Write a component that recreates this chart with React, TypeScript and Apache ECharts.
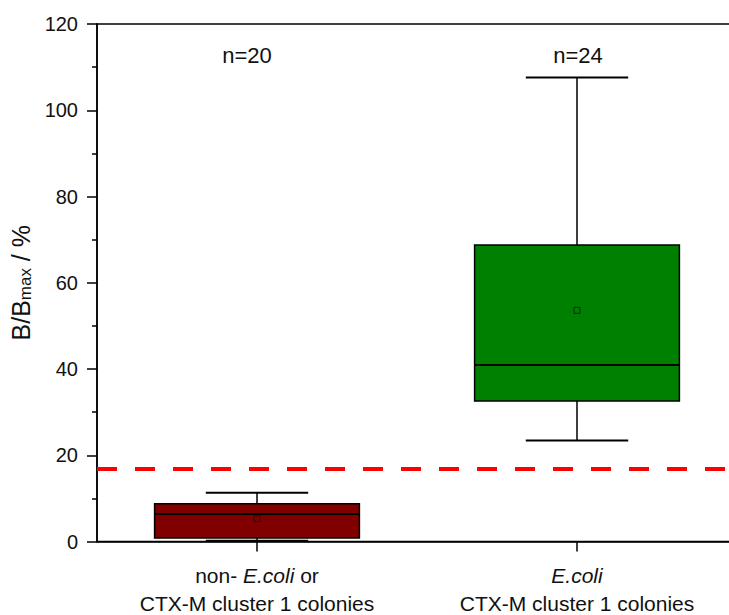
import React, { useEffect, useRef } from "react";
import * as echarts from "echarts";

const categories = [
  "non- E.coli or\nCTX-M cluster 1 colonies",
  "E.coli\nCTX-M cluster 1 colonies",
];
// [min, Q1, median, Q3, max]
const mins = [0.2, 23.4];
const q1s = [0.8, 32.6];
const medians = [6.4, 40.9];
const q3s = [8.75, 68.75];
const maxs = [11.3, 107.6];
const means = [5.3, 53.6];
const nValues = [20, 24];
const thresholdValue = 16.8;
const yTicks = [0, 20, 40, 60, 80, 100, 120];
const boxColors = ["#800000", "#008000"];

const FONT = "Liberation Sans, Arial, sans-serif";

export default function App() {
  const ref = useRef<HTMLDivElement>(null);
  useEffect(() => {
    if (!ref.current) return;
    const chart = echarts.init(ref.current, null, { renderer: "svg" });
    const boxData = categories.map((_, i) => [i, mins[i], q1s[i], medians[i], q3s[i], maxs[i]]);
    const fmtCat = (s: string) =>
      s
        .split("\n")
        .map((line) => {
          const parts = line.split("E.coli");
          return parts
            .map((p) => (p ? `{n|${p}}` : ""))
            .join("{i|E.coli}");
        })
        .join("\n");
    const option: any = {
      animation: false,
      backgroundColor: "#ffffff",
      grid: {
        left: 97,
        top: 24,
        right: 0,
        bottom: 73.5,
        containLabel: false,
        outerBoundsMode: "none",
        show: true,
        borderColor: "#000",
        borderWidth: 1.5,
        backgroundColor: "transparent",
      },
      xAxis: {
        type: "category",
        data: categories,
        boundaryGap: true,
        axisLine: { show: true, lineStyle: { color: "#000", width: 1.5 } },
        axisTick: { show: true, alignWithLabel: true, length: 10, lineStyle: { color: "#000", width: 1.5 } },
        axisLabel: {
          margin: 20,
          interval: 0,
          formatter: (v: string) => fmtCat(v),
          rich: {
            n: { fontSize: 21, fontFamily: FONT, color: "#111", lineHeight: 28 },
            i: { fontSize: 21, fontFamily: FONT, color: "#111", lineHeight: 28, fontStyle: "italic" },
          },
        },
        splitLine: { show: false },
      },
      yAxis: {
        type: "value",
        min: yTicks[0],
        max: yTicks[yTicks.length - 1],
        interval: yTicks[1] - yTicks[0],
        axisLine: { show: true, lineStyle: { color: "#000", width: 1.5 } },
        axisTick: { show: true, inside: false, length: 10, lineStyle: { color: "#000", width: 1.5 } },
        minorTick: { show: true, splitNumber: 2, length: 5, lineStyle: { color: "#000", width: 1.5 } },
        splitLine: { show: false },
        axisLabel: { margin: 19, fontSize: 20, fontFamily: FONT, color: "#111" },
        name: "{a|B/B}{b|max}{a| / %}",
        nameLocation: "middle",
        nameRotate: 90,
        nameGap: 52,
        nameTextStyle: {
          rich: {
            a: { fontSize: 25, fontFamily: FONT, color: "#111", lineHeight: 25, verticalAlign: "top" },
            b: { fontSize: 17, fontFamily: FONT, color: "#111", lineHeight: 17, verticalAlign: "bottom", padding: [17, 0, 0, 0] },
          },
        },
      },
      series: [
        {
          type: "custom",
          z: 2,
          encode: { x: 0, y: [1, 2, 3, 4, 5] },
          data: boxData,
          renderItem: (params: any, api: any) => {
            const x = api.value(0);
            const pMin = api.coord([x, api.value(1)]);
            const pQ1 = api.coord([x, api.value(2)]);
            const pMed = api.coord([x, api.value(3)]);
            const pQ3 = api.coord([x, api.value(4)]);
            const pMax = api.coord([x, api.value(5)]);
            const band = api.size([1, 0])[0];
            const bw = band * 0.64;
            const cw = bw / 2;
            const cx = pMin[0];
            const ls = { stroke: "#000", lineWidth: 1.5 };
            return {
              type: "group",
              children: [
                { type: "line", shape: { x1: cx, y1: pQ3[1], x2: cx, y2: pMax[1] }, style: ls },
                { type: "line", shape: { x1: cx - cw / 2, y1: pMax[1], x2: cx + cw / 2, y2: pMax[1] }, style: { stroke: "#000", lineWidth: 2 } },
                { type: "line", shape: { x1: cx, y1: pQ1[1], x2: cx, y2: pMin[1] }, style: ls },
                { type: "line", shape: { x1: cx - cw / 2, y1: pMin[1], x2: cx + cw / 2, y2: pMin[1] }, style: { stroke: "#000", lineWidth: 2 } },
                {
                  type: "rect",
                  shape: { x: cx - bw / 2, y: pQ3[1], width: bw, height: pQ1[1] - pQ3[1] },
                  style: { fill: boxColors[params.dataIndex], stroke: "#000", lineWidth: 1.5 },
                },
                { type: "line", shape: { x1: cx - bw / 2, y1: pMed[1], x2: cx + bw / 2, y2: pMed[1] }, style: { stroke: "#000", lineWidth: 2 } },
              ],
            };
          },
        },
        {
          type: "scatter",
          z: 3,
          symbol: "rect",
          symbolSize: 6,
          itemStyle: { color: "rgba(0,0,0,0)", borderColor: "#111", borderWidth: 1 },
          data: means.map((m, i) => [i, m]),
          markLine: {
            silent: true,
            symbol: ["none", "none"],
            label: { show: false },
            lineStyle: { color: "#ff0000", width: 4, type: [20, 18] },
            data: [{ yAxis: thresholdValue }],
          },
        },
        {
          type: "scatter",
          z: 4,
          symbolSize: 0,
          itemStyle: { opacity: 1 },
          data: nValues.map((n, i) => ({
            value: [i, 112.6],
            n,
            label: { offset: i === 0 ? [-10, 0] : [1, 0] },
          })),
          label: {
            show: true,
            position: "inside",
            formatter: (p: any) => "n=" + p.data.n,
            fontSize: 22,
            fontFamily: FONT,
            color: "#111",
            opacity: 1,
          },
        },
      ],
    };
    chart.setOption(option);
    return () => chart.dispose();
  }, []);
  return (
    <div
      style={{ position: "absolute", left: 0, top: 0, width: 729, height: 615, overflow: "hidden", background: "#fff" }}
    >
      <div ref={ref} style={{ width: 737, height: 615 }} />
    </div>
  );
}
